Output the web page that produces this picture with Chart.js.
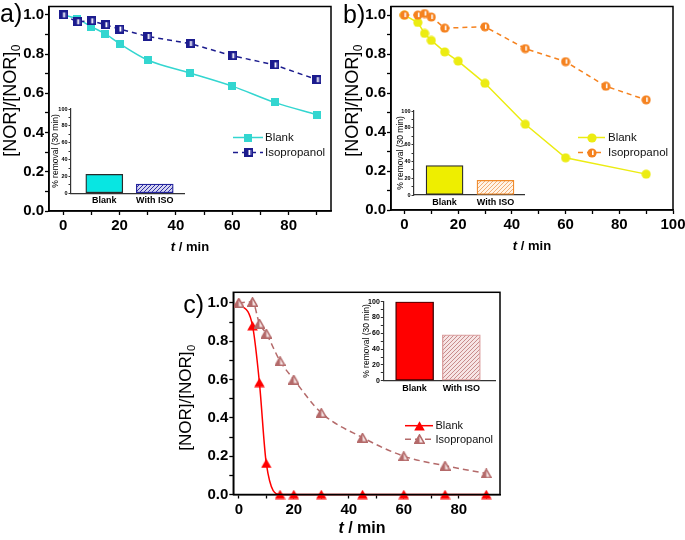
<!DOCTYPE html>
<html><head><meta charset="utf-8">
<script src="https://cdn.jsdelivr.net/npm/chart.js@4.4.0/dist/chart.umd.min.js"></script>
<style>
html,body{margin:0;padding:0;background:#fff;}
body{width:685px;height:540px;position:relative;overflow:hidden;}
canvas{position:absolute;}
</style></head><body>
<canvas id="chartA" width="340" height="255" style="left:0;top:0"></canvas>
<canvas id="chartB" width="345" height="255" style="left:340px;top:0"></canvas>
<canvas id="chartC" width="345" height="285" style="left:170px;top:255px"></canvas>
<canvas id="insetA" width="150" height="112" style="left:40px;top:100px"></canvas>
<canvas id="insetB" width="145" height="112" style="left:390px;top:100px"></canvas>
<canvas id="insetC" width="150" height="110" style="left:355px;top:290px"></canvas>
<script>
// ---------------- DATA ----------------
const timeA = [0, 5, 10, 15, 20, 30, 45, 60, 75, 90];
const blankA = [1.0, 0.98, 0.94, 0.903, 0.854, 0.770, 0.704, 0.637, 0.554, 0.491];
const isoA = [1.0, 0.965, 0.97, 0.95, 0.928, 0.89, 0.854, 0.792, 0.745, 0.67];

const timeBBlank = [0, 5, 7.5, 10, 15, 20, 30, 45, 60, 90];
const blankB = [1.0, 0.962, 0.906, 0.87, 0.811, 0.764, 0.65, 0.44, 0.268, 0.184];
const timeBIso = [0, 5, 7.5, 10, 15, 30, 45, 60, 75, 90];
const isoB = [1.0, 1.0, 1.008, 0.99, 0.933, 0.94, 0.828, 0.761, 0.635, 0.565];

const timeC = [0, 5, 7.5, 10, 15, 20, 30, 45, 60, 75, 90];
const blankC = [1.0, 0.88, 0.584, 0.162, 0, 0, 0, 0, 0, 0, 0];
const isoC = [1.0, 1.005, 0.892, 0.84, 0.696, 0.6, 0.426, 0.297, 0.2, 0.15, 0.11];

const barCategories = ['Blank', 'With ISO'];
const removalA = [22.5, 11];
const removalB = [35, 17.5];
const removalC = [100, 58];

const seriesLabels = ['Blank', 'Isopropanol'];
const majorY = [0, 0.2, 0.4, 0.6, 0.8, 1.0];
const majorXA = [0, 20, 40, 60, 80];
const majorXB = [0, 20, 40, 60, 80, 100];
const majorXC = [0, 20, 40, 60, 80];
const insetYTicks = [0, 20, 40, 60, 80, 100];
const yTitleMain = '[NOR]/[NOR]';
const yTitleSub = '0';
const xTitleItalic = 't';
const xTitleRest = ' / min';
const insetYTitle = '% removal (30 min)';

// ---------------- STYLE ----------------
const FONT = "'Liberation Sans', Arial, Helvetica, sans-serif";
Chart.defaults.font.family = FONT;
Chart.defaults.color = '#000';
const C = {
  aBlank: '#33d6d0', aIso: '#1c1c8e',
  bBlank: '#ecec12', bIso: '#f5821f',
  cBlank: '#ff0000', cIso: '#b46a6a'
};

function marker(w, h, draw) {
  const c = document.createElement('canvas'); c.width = w; c.height = h;
  draw(c.getContext('2d'), w, h); return c;
}
const mSqCyan = marker(8, 8, g => { g.fillStyle = C.aBlank; g.fillRect(0, 0, 8, 8); });
const mSqNavy = marker(9, 9, g => {
  g.fillStyle = C.aIso; g.fillRect(0, 0, 9, 9);
  g.fillStyle = '#ffffff'; g.fillRect(4.5, 2, 1.6, 5);
  g.fillStyle = '#8080c8'; g.fillRect(6.2, 2, 1.2, 5);
});
const mCirYellow = marker(10, 10, g => {
  g.fillStyle = C.bBlank; g.beginPath(); g.arc(5, 5, 4.6, 0, Math.PI * 2); g.fill();
});
const mCirOrange = marker(10, 10, g => {
  g.fillStyle = C.bIso; g.beginPath(); g.arc(5, 5, 4.6, 0, Math.PI * 2); g.fill();
  g.fillStyle = '#ffffff'; g.fillRect(5, 2.5, 1.6, 4.5);
});
const mTriRed = marker(11, 10, g => {
  g.fillStyle = C.cBlank; g.beginPath(); g.moveTo(5.5, 0.3); g.lineTo(10.8, 9.6); g.lineTo(0.2, 9.6); g.closePath(); g.fill();
});
const mTriBrown = marker(11, 10, g => {
  g.beginPath(); g.moveTo(5.5, 0.8); g.lineTo(10.3, 9.3); g.lineTo(0.7, 9.3); g.closePath();
  g.fillStyle = '#f4e4e4'; g.fill();
  g.strokeStyle = C.cIso; g.lineWidth = 1.5; g.stroke();
  g.fillStyle = C.cIso; g.beginPath(); g.moveTo(5.5, 1); g.lineTo(5.5, 9.3); g.lineTo(0.9, 9.3); g.closePath(); g.fill();
});

function hatch(bg, fg) {
  const c = document.createElement('canvas'); c.width = 4; c.height = 4;
  const g = c.getContext('2d');
  g.fillStyle = bg; g.fillRect(0, 0, 4, 4);
  g.strokeStyle = fg; g.lineWidth = 1;
  g.beginPath(); g.moveTo(0, 4); g.lineTo(4, 0); g.moveTo(-1, 1); g.lineTo(1, -1); g.moveTo(3, 5); g.lineTo(5, 3); g.stroke();
  return g.createPattern(c, 'repeat');
}

// ---------------- HELPERS ----------------
function pts(xs, ys) { return xs.map((x, i) => ({ x: x, y: ys[i] })); }
function withMinors(majors, max) {
  const out = [];
  const step = (majors[1] - majors[0]) / 2;
  for (let i = 0; i < majors.length; i++) {
    out.push(majors[i]);
    if (i < majors.length - 1) out.push((majors[i] + majors[i + 1]) / 2);
  }
  let v = majors[majors.length - 1] + step;
  while (max !== undefined && v <= max + 1e-9) { out.push(v); v += step; }
  return out;
}
function isMajor(list, v) { return list.some(m => Math.abs(m - v) < 1e-9); }

const annotate = {
  id: 'annotate',
  afterDraw(chart, args, o) {
    const ctx = chart.ctx;
    ctx.save();
    ctx.fillStyle = '#000';
    if (o.frame) {
      const a = chart.chartArea;
      ctx.strokeStyle = '#000'; ctx.lineWidth = 1.5;
      ctx.strokeRect(a.left, a.top, a.right - a.left, a.bottom - a.top);
    }
    if (o.panel) {
      ctx.font = o.panel.size + 'px ' + FONT;
      ctx.textAlign = o.panel.align || 'left'; ctx.textBaseline = 'alphabetic';
      ctx.fillText(o.panel.text, o.panel.x, o.panel.y);
    }
    if (o.yTitle) {
      const t = o.yTitle;
      ctx.save();
      ctx.translate(t.x, t.y); ctx.rotate(-Math.PI / 2);
      const mainFont = (t.weight || 'normal') + ' ' + t.size + 'px ' + FONT;
      const subFont = (t.size * 0.66) + 'px ' + FONT;
      ctx.font = mainFont; const wm = ctx.measureText(t.main).width;
      let ws = 0;
      if (t.sub) { ctx.font = subFont; ws = ctx.measureText(t.sub).width; }
      const x0 = -(wm + ws) / 2;
      ctx.textAlign = 'left'; ctx.textBaseline = 'middle';
      ctx.font = mainFont; ctx.fillText(t.main, x0, 0);
      if (t.sub) { ctx.font = subFont; ctx.fillText(t.sub, x0 + wm + 0.5, t.size * 0.32); }
      ctx.restore();
    }
    if (o.xTitle) {
      const t = o.xTitle;
      const f1 = 'italic bold ' + t.size + 'px ' + FONT;
      const f2 = 'bold ' + t.size + 'px ' + FONT;
      ctx.font = f1; const w1 = ctx.measureText(xTitleItalic).width;
      ctx.font = f2; const w2 = ctx.measureText(xTitleRest).width;
      const x0 = t.x - (w1 + w2) / 2;
      ctx.textAlign = 'left'; ctx.textBaseline = 'middle';
      ctx.font = f1; ctx.fillText(xTitleItalic, x0, t.y);
      ctx.font = f2; ctx.fillText(xTitleRest, x0 + w1, t.y);
    }
    if (o.legend) {
      const L = o.legend;
      L.rows.forEach((y, i) => {
        const ds = chart.data.datasets[i];
        ctx.strokeStyle = ds.borderColor; ctx.lineWidth = ds.borderWidth;
        ctx.setLineDash(ds.borderDash || []);
        ctx.beginPath(); ctx.moveTo(L.x0, y); ctx.lineTo(L.x1, y); ctx.stroke();
        ctx.setLineDash([]);
        const img = ds.pointStyle;
        const cx = (L.x0 + L.x1) / 2;
        ctx.drawImage(img, Math.round(cx - img.width / 2), Math.round(y - img.height / 2));
        ctx.fillStyle = '#111';
        ctx.font = L.size + 'px ' + FONT;
        ctx.textAlign = 'left'; ctx.textBaseline = 'middle';
        ctx.fillText(ds.label, L.tx, y + 0.5);
      });
    }
    ctx.restore();
  }
};

function mainOptions(o) {
  const gridCfg = { drawOnChartArea: false, tickLength: 4, tickColor: '#000', tickWidth: 1.3 };
  const borderCfg = { color: '#000', width: 1.5 };
  return {
    responsive: false, animation: false, devicePixelRatio: 1,
    layout: { padding: { left: 0, top: o.top, right: o.right, bottom: 0 } },
    plugins: { legend: { display: false }, tooltip: { enabled: false }, annotate: o.annotate },
    scales: {
      x: {
        type: 'linear', min: o.xMin, max: o.xMax,
        afterBuildTicks: s => { s.ticks = withMinors(o.xMajors, o.xMax).map(v => ({ value: v })); },
        ticks: { autoSkip: false, maxRotation: 0, minRotation: 0, padding: 2, color: '#000',
          font: { size: o.tickSize, weight: 'bold' },
          callback: v => isMajor(o.xMajors, v) ? String(v) : '' },
        grid: gridCfg, border: borderCfg,
        afterFit: s => { s.height = o.xH; s.paddingLeft = 0; s.paddingRight = 0; }
      },
      y: {
        type: 'linear', min: 0, max: o.yMax,
        afterBuildTicks: s => { s.ticks = withMinors(majorY).map(v => ({ value: v })); },
        ticks: { autoSkip: false, padding: 1, color: '#000',
          font: { size: o.tickSize, weight: 'bold' },
          callback: v => isMajor(majorY, v) ? v.toFixed(1) : '' },
        grid: gridCfg, border: borderCfg,
        afterFit: s => { s.width = o.yW; s.paddingTop = 0; s.paddingBottom = 0; }
      }
    }
  };
}

function lineDs(label, xs, ys, color, style, dash, smooth, order) {
  return {
    label: label, data: pts(xs, ys), borderColor: color, backgroundColor: color,
    borderWidth: 1.5, borderDash: dash, pointStyle: style, pointRadius: 5,
    tension: smooth ? 0.4 : 0, cubicInterpolationMode: smooth ? 'monotone' : 'default',
    order: order, clip: false, fill: false
  };
}

// ---------------- MAIN CHARTS ----------------
new Chart(document.getElementById('chartA'), {
  type: 'line',
  data: { datasets: [
    lineDs(seriesLabels[0], timeA, blankA, C.aBlank, mSqCyan, [], true, 2),
    lineDs(seriesLabels[1], timeA, isoA, C.aIso, mSqNavy, [5, 4], false, 1)
  ] },
  options: mainOptions({
    top: 2, right: 9, xMin: -5, xMax: 95, yMax: 1.043, xMajors: majorXA, xH: 44, yW: 49, tickSize: 15,
    annotate: {
      frame: true,
      panel: { text: 'a)', x: 0, y: 21.5, size: 25 },
      yTitle: { main: yTitleMain, sub: yTitleSub, x: 11, y: 101, size: 18 },
      xTitle: { x: 190, y: 247, size: 13 },
      legend: { x0: 233, x1: 263, tx: 265, rows: [137.5, 152.5], size: 11.5 }
    }
  }),
  plugins: [annotate]
});

new Chart(document.getElementById('chartB'), {
  type: 'line',
  data: { datasets: [
    lineDs(seriesLabels[0], timeBBlank, blankB, C.bBlank, mCirYellow, [], false, 2),
    lineDs(seriesLabels[1], timeBIso, isoB, C.bIso, mCirOrange, [5, 4], false, 1)
  ] },
  options: mainOptions({
    top: 2, right: 12, xMin: -5, xMax: 100, yMax: 1.044, xMajors: majorXB, xH: 45, yW: 51, tickSize: 15,
    annotate: {
      frame: true,
      panel: { text: 'b)', x: 3, y: 23, size: 25 },
      yTitle: { main: yTitleMain, sub: yTitleSub, x: 13, y: 101, size: 18 },
      xTitle: { x: 192, y: 246, size: 13 },
      legend: { x0: 238, x1: 265, tx: 268, rows: [137.5, 152.5], size: 11.5 }
    }
  }),
  plugins: [annotate]
});

new Chart(document.getElementById('chartC'), {
  type: 'line',
  data: { datasets: [
    lineDs(seriesLabels[0], timeC, blankC, C.cBlank, mTriRed, [], true, 2),
    lineDs(seriesLabels[1], timeC, isoC, C.cIso, mTriBrown, [6, 4], true, 1)
  ] },
  options: mainOptions({
    top: 37.3, right: 15, xMin: -2, xMax: 95, yMax: 1.055, xMajors: majorXC, xH: 45.5, yW: 63.3, tickSize: 15,
    annotate: {
      frame: true,
      panel: { text: 'c)', x: 34, y: 58, size: 25, align: 'right' },
      yTitle: { main: yTitleMain, sub: yTitleSub, x: 16, y: 143, size: 17 },
      xTitle: { x: 192, y: 274, size: 16 },
      legend: { x0: 235, x1: 263, tx: 265.5, rows: [170.7, 184.3], size: 11 }
    }
  }),
  plugins: [annotate]
});

// ---------------- INSETS ----------------
function inset(id, values, fills, borders, o) {
  return new Chart(document.getElementById(id), {
    type: 'bar',
    data: { datasets: [{
      data: barCategories.map((c, i) => ({ x: i + 1, y: values[i] })),
      backgroundColor: fills, borderColor: borders, borderWidth: 1.3,
      borderSkipped: false, barThickness: o.barW, grouped: false
    }] },
    options: {
      responsive: false, animation: false, devicePixelRatio: 1,
      layout: { padding: { left: 0, top: o.top, right: o.right, bottom: 0 } },
      plugins: { legend: { display: false }, tooltip: { enabled: false },
        annotate: { yTitle: { main: insetYTitle, x: o.titleX, y: o.titleY, size: 8.5 } } },
      scales: {
        x: {
          type: 'linear', min: o.xMin, max: o.xMax, offset: false,
          afterBuildTicks: s => { s.ticks = barCategories.map((c, i) => ({ value: i + 1 })); },
          ticks: { autoSkip: false, maxRotation: 0, padding: 2, color: '#000',
            font: { size: 9, weight: 'bold' },
            callback: v => barCategories[Math.round(v) - 1] || '' },
          grid: { drawOnChartArea: false, drawTicks: false, offset: false },
          border: { color: '#333', width: 1.2 },
          afterFit: s => { s.height = o.xH; s.paddingLeft = 0; s.paddingRight = 0; }
        },
        y: {
          type: 'linear', min: 0, max: 100,
          afterBuildTicks: s => { s.ticks = withMinors(insetYTicks).map(v => ({ value: v })); },
          ticks: { autoSkip: false, padding: 1, color: '#000',
            font: { size: o.tickSize, weight: 'bold' },
            callback: v => isMajor(insetYTicks, v) ? String(v) : '' },
          grid: { drawOnChartArea: false, tickLength: 2.5, tickColor: '#333', tickWidth: 1 },
          border: { color: '#333', width: 1.2 },
          afterFit: s => { s.width = o.yW; s.paddingTop = 0; s.paddingBottom = 0; }
        }
      }
    },
    plugins: [annotate]
  });
}

inset('insetA', removalA,
  ['#08e6e2', hatch('#d4d4f0', '#2b2ba6')], ['#2a2a2a', '#24249c'],
  { top: 9, right: 6, xH: 18.7, yW: 31, xMin: 0.34, xMax: 2.58, barW: 37, tickSize: 5.5, titleX: 15.5, titleY: 51 });
inset('insetB', removalB,
  ['#eeee00', hatch('#fff4e8', '#f2ad74')], ['#2a2a2a', '#f08a2a'],
  { top: 11, right: 11, xH: 17, yW: 24, xMin: 0.4, xMax: 2.56, barW: 37, tickSize: 5.5, titleX: 10.5, titleY: 53 });
inset('insetC', removalC,
  ['#ff0000', hatch('#f6e4e4', '#c88c8c')], ['#3a0000', '#dca0a0'],
  { top: 11.7, right: 10, xH: 19.3, yW: 28.3, xMin: 0.33, xMax: 2.72, barW: 38, tickSize: 7, titleX: 12, titleY: 51 });
</script>
</body></html>
